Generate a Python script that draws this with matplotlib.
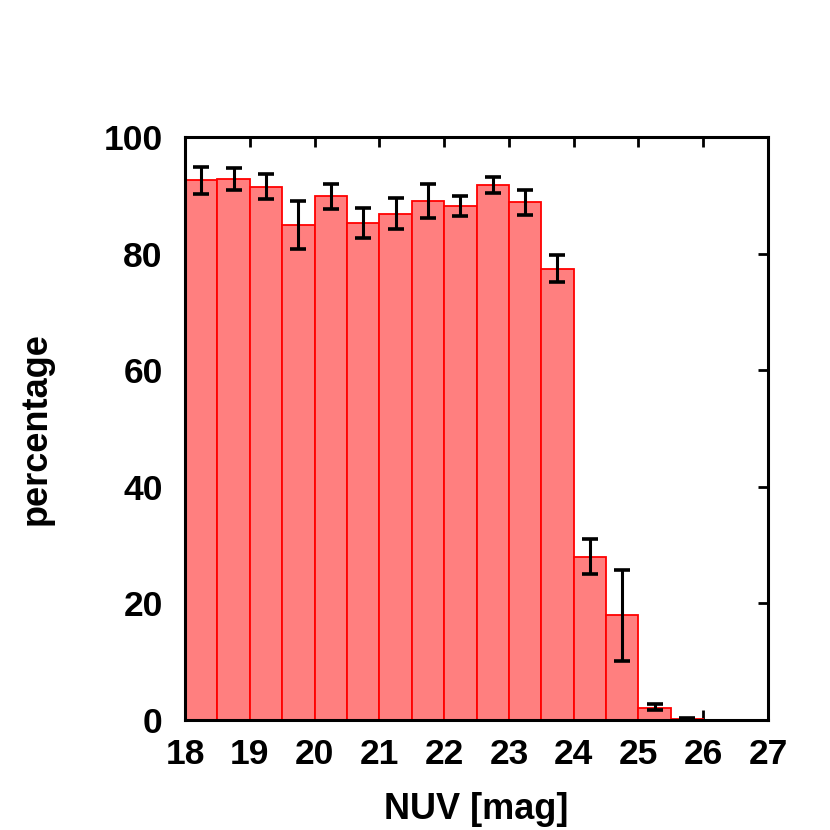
import numpy as np
import matplotlib
matplotlib.use("Agg")
import matplotlib.pyplot as plt

plt.rcParams["font.family"] = ["Liberation Sans", "DejaVu Sans"]
plt.rcParams["font.weight"] = "bold"

# bin left edges (NUV mag), bin width 0.5
bin_left = [18.0, 18.5, 19.0, 19.5, 20.0, 20.5, 21.0, 21.5, 22.0,
            22.5, 23.0, 23.5, 24.0, 24.5, 25.0, 25.5, 26.0, 26.5]
percent = [92.6, 92.8, 91.5, 84.9, 89.8, 85.3, 86.8, 89.0, 88.2,
           91.7, 88.8, 77.4, 28.0, 18.0, 2.1, 0.1, 0.0, 0.0]
err_low = [90.3, 90.9, 89.3, 80.8, 87.7, 82.6, 84.2, 86.1, 86.5,
           90.4, 86.7, 75.1, 25.0, 10.1, 1.7, 0.0, 0.0, 0.0]
err_high = [94.8, 94.7, 93.7, 89.0, 91.9, 87.9, 89.5, 91.9, 89.9,
            93.1, 90.9, 79.8, 31.0, 25.8, 2.7, 0.3, 0.0, 0.0]
n_err = 16  # bins that carry an error bar

width = 0.5
x = np.array(bin_left)
y = np.array(percent)

fig = plt.figure(figsize=(8.3, 8.3), dpi=100)
ax = fig.add_axes([0.2229, 0.1325, 0.7024, 0.7024])

ax.bar(x, y, width=width, align="edge", color="#ff7f7f",
       edgecolor="red", linewidth=1.3, zorder=1)

xc = x[:n_err] + width / 2
lo = y[:n_err] - np.array(err_low[:n_err])
hi = np.array(err_high[:n_err]) - y[:n_err]
ax.errorbar(xc, y[:n_err], yerr=[lo, hi], fmt="none", ecolor="black",
            elinewidth=2.2, capsize=6, capthick=2.6, zorder=3)

ax.set_xlim(18, 27)
ax.set_ylim(0, 100)
ax.set_xticks(range(18, 28))
ax.set_yticks(range(0, 101, 20))
ax.set_axisbelow(True)

ax.tick_params(direction="in", length=7, width=2, top=True, right=True,
               labelsize=25.5)
ax.tick_params(axis="x", pad=13)
ax.tick_params(axis="y", pad=16)
for s in ax.spines.values():
    s.set_linewidth(2.2)

ax.set_xlabel("NUV [mag]", fontsize=26, fontweight="bold", labelpad=15)
ax.set_ylabel("percentage", fontsize=26, fontweight="bold", labelpad=36)

fig.savefig("out.png", dpi=100)
